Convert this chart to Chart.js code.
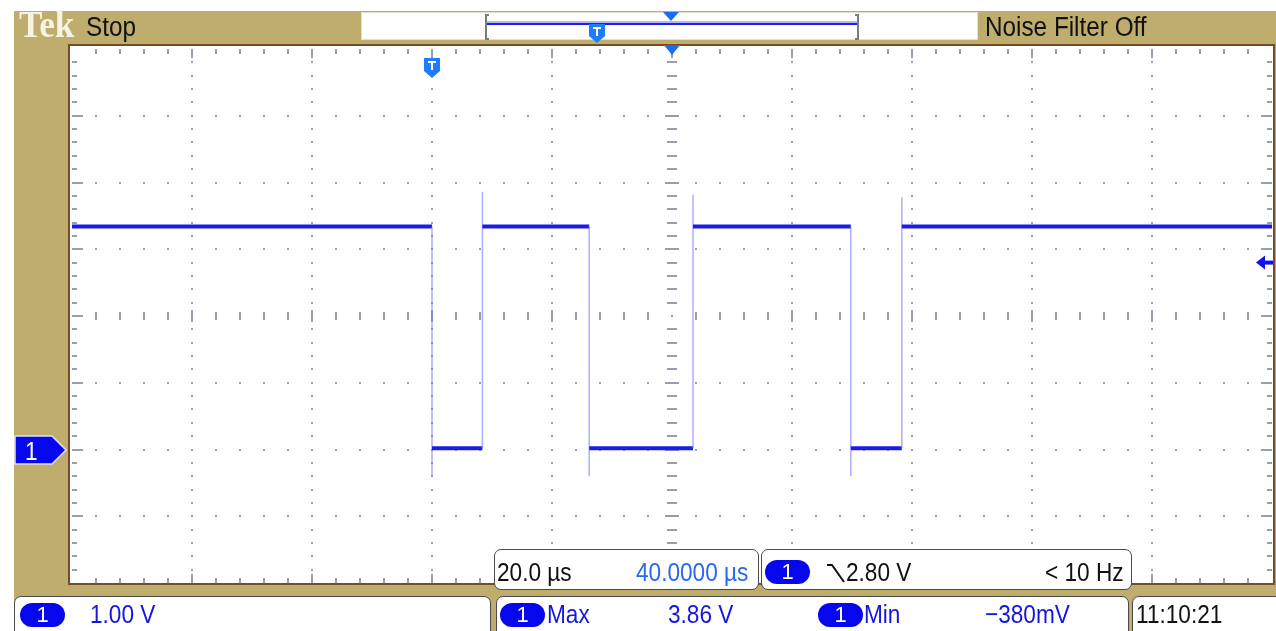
<!DOCTYPE html>
<html>
<head>
<meta charset="utf-8">
<title>Tek scope capture</title>
<script src="https://cdn.jsdelivr.net/npm/chart.js@4.4.1/dist/chart.umd.min.js"></script>
<style>
  html, body { margin: 0; padding: 0; background: #fff; }
  #wrap { position: relative; width: 1276px; height: 631px; overflow: hidden; }
  #scope { position: absolute; left: 0; top: 0; }
  .lbl { position: absolute; font-family: 'Liberation Sans', Arial, sans-serif; font-size: 26px; line-height: 26px;
         white-space: nowrap; transform: scaleX(.87); transform-origin: 0 0; color: #111; }
  .big { font-size: 27px; line-height: 27px; transform: scaleX(.9); }
  .blue { color: #1515e0; }
  .lblue { color: #2a66f2; }
  .tek { position: absolute; left: 19px; top: 6px; font-family: 'Liberation Serif', serif; font-weight: bold;
         font-size: 37px; line-height: 37px; color: #f6f2e4; transform: scaleX(.95); transform-origin: 0 0; }
  .box { position: absolute; background: #fff; border: 1.5px solid #4a4a4a; border-radius: 7px; box-sizing: border-box; }
  .pill { position: absolute; width: 45px; height: 24px; background: #0707ee; border-radius: 12px; color: #fff;
          font-family: 'Liberation Sans', sans-serif; font-size: 22px; line-height: 24px; text-align: center; }
</style>
</head>
<body>
<div id="wrap">
  <canvas id="scope" width="1276" height="631"></canvas>

  <span class="tek">Tek</span>
  <span class="lbl big" style="left:86px;top:14px">Stop</span>
  <span class="lbl big" style="left:985px;top:14px">Noise Filter Off</span>

  <div class="box" style="left:494px;top:549px;width:265px;height:41px"></div>
  <div class="box" style="left:761px;top:549px;width:371px;height:41px"></div>
  <span class="lbl" style="left:497px;top:559px">20.0 µs</span>
  <span class="lbl lblue" style="left:636px;top:559px">40.0000 µs</span>
  <span class="pill" style="left:765px;top:560px">1</span>
  <svg style="position:absolute;left:826px;top:562px" width="20" height="22">
    <polyline points="1,3 6,3 18,20" fill="none" stroke="#111" stroke-width="2"/>
  </svg>
  <span class="lbl" style="left:846px;top:559px">2.80 V</span>
  <span class="lbl" style="left:1045px;top:559px">&lt; 10 Hz</span>

  <div class="box" style="left:14px;top:596px;width:477px;height:50px"></div>
  <div class="box" style="left:496px;top:596px;width:633px;height:50px"></div>
  <div class="box" style="left:1132px;top:596px;width:150px;height:50px"></div>
  <span class="pill" style="left:20px;top:603px">1</span>
  <span class="lbl blue" style="left:90px;top:601px">1.00 V</span>
  <span class="pill" style="left:500px;top:603px">1</span>
  <span class="lbl blue" style="left:547px;top:601px">Max</span>
  <span class="lbl blue" style="left:668px;top:601px">3.86 V</span>
  <span class="pill" style="left:818px;top:603px">1</span>
  <span class="lbl blue" style="left:864px;top:601px">Min</span>
  <span class="lbl blue" style="left:985px;top:601px">&minus;380mV</span>
  <span class="lbl" style="left:1136px;top:601px">11:10:21</span>

  <span id="gndLabel" class="lbl" style="left:25px;top:436px;color:#fff">1</span>
</div>

<script>
'use strict';

// channel 1 trace, time relative to trigger (µs) and volts
const timeUs = [-60, 0, 0, 0, 8.4, 8.4, 8.4, 26.2, 26.2, 26.2, 43.5, 43.5, 43.5, 69.8, 69.8, 69.8, 78.3, 78.3, 78.3, 140];
const volts = [3.34, 3.34, -0.40, 0.02, 0.02, 3.86, 3.34, 3.34, -0.40, 0.02, 0.02, 3.82, 3.34, 3.34, -0.40, 0.02, 0.02, 3.78, 3.34, 3.34];

const timeRange = [-60, 140];
const voltRange = [-2, 6];
const timeDiv = 20;
const voltDiv = 1;
const triggerTime = 0;
const centerTime = 40;
const triggerLevel = 2.80;

const TAN = '#bead6d';
const levelColor = '#1c1ce8';
const edgeColor = 'rgba(120,120,255,0.6)';

function dot(ctx, x, y) {
  ctx.fillRect(Math.round(x) - 1, Math.round(y) - 1, 2, 2);
}
function hTick(ctx, x0, x1, y) {
  ctx.fillRect(x0, Math.round(y) - 1, x1 - x0, 2);
}
function vTick(ctx, x, y0, y1) {
  ctx.fillRect(Math.round(x) - 1, y0, 2, y1 - y0);
}

const graticule = {
  id: 'graticule',
  beforeDraw(chart) {
    const {ctx, chartArea: a, width, height} = chart;
    ctx.save();
    ctx.fillStyle = '#fff';
    ctx.fillRect(0, 0, width, height);
    ctx.fillStyle = TAN;
    ctx.fillRect(14, 11, width - 14, height - 11);
    ctx.fillStyle = '#fff';
    ctx.fillRect(a.left - 3, a.top - 4, a.right - a.left + 5, a.bottom - a.top + 5);
    ctx.strokeStyle = '#7a4a24';
    ctx.lineWidth = 2;
    ctx.strokeRect(a.left - 3, a.top - 4, a.right - a.left + 5, a.bottom - a.top + 5);

    // record view bar
    ctx.fillStyle = '#fff';
    ctx.fillRect(361, 12, 617, 28);
    ctx.strokeStyle = '#e4e0cc';
    ctx.lineWidth = 1;
    ctx.strokeRect(361.5, 12.5, 616, 27);
    ctx.strokeStyle = '#6f8080';
    ctx.lineWidth = 2;
    ctx.beginPath();
    ctx.moveTo(489, 15); ctx.lineTo(486, 15); ctx.lineTo(486, 39); ctx.lineTo(489, 39);
    ctx.moveTo(855, 15); ctx.lineTo(858, 15); ctx.lineTo(858, 39); ctx.lineTo(855, 39);
    ctx.stroke();
    ctx.fillStyle = 'rgba(110,110,255,0.5)';
    ctx.fillRect(487, 21, 370, 2);
    ctx.fillStyle = '#1c1cf0';
    ctx.fillRect(487, 23, 370, 2);
    ctx.fillStyle = '#1e7cff';
    ctx.beginPath();
    ctx.moveTo(589, 24); ctx.lineTo(605, 24); ctx.lineTo(605, 36); ctx.lineTo(597, 43); ctx.lineTo(589, 36);
    ctx.closePath();
    ctx.fill();
    ctx.fillStyle = '#fff';
    ctx.fillRect(593, 27, 8, 2);
    ctx.fillRect(596, 27, 2, 9);
    ctx.fillStyle = '#1a6df2';
    ctx.beginPath();
    ctx.moveTo(663, 12); ctx.lineTo(679, 12); ctx.lineTo(671, 21);
    ctx.closePath();
    ctx.fill();
    ctx.restore();
  },
  beforeDatasetsDraw(chart) {
    const {ctx, chartArea: a} = chart;
    const xs = chart.scales.x;
    const ys = chart.scales.y;
    const nx = (timeRange[1] - timeRange[0]) / timeDiv * 5;
    const ny = (voltRange[1] - voltRange[0]) / voltDiv * 5;
    const majorX = [];
    const majorY = [];
    for (let i = 1; i < nx / 5; i++) majorX.push(xs.getPixelForValue(timeRange[0] + i * timeDiv));
    for (let j = 1; j < ny / 5; j++) majorY.push(ys.getPixelForValue(voltRange[0] + j * voltDiv));
    const cx = (nx / 5) / 2 - 1;
    const cy = (ny / 5) / 2 - 1;

    ctx.save();
    ctx.fillStyle = '#9c9cab';
    for (let j = 1; j < ny; j++) {
      const y = ys.getPixelForValue(voltRange[0] + j * voltDiv / 5);
      const big = j % 5 === 0;
      hTick(ctx, a.left, a.left + (big ? 11 : 5), y);
      hTick(ctx, a.right - (big ? 11 : 5), a.right, y);
      majorX.forEach((x, k) => {
        if (k === cx) {
          if (j === ny / 2) dot(ctx, x, y);
          else hTick(ctx, x - (big ? 7 : 5), x + (big ? 7 : 5), y);
        } else {
          dot(ctx, x, y);
        }
      });
    }
    for (let i = 1; i < nx; i++) {
      const x = xs.getPixelForValue(timeRange[0] + i * timeDiv / 5);
      const big = i % 5 === 0;
      vTick(ctx, x, a.top, a.top + (big ? 9 : 5));
      vTick(ctx, x, a.bottom - (big ? 9 : 5), a.bottom);
      majorY.forEach((y, k) => {
        if (k === cy) {
          if (i !== nx / 2) vTick(ctx, x, Math.round(y - (big ? 6 : 4)), Math.round(y + (big ? 6 : 4)));
        } else if (!big) {
          dot(ctx, x, y);
        }
      });
    }
    ctx.restore();
  },
  afterDatasetsDraw(chart) {
    const {ctx, chartArea: a} = chart;
    const xs = chart.scales.x;
    const ys = chart.scales.y;
    ctx.save();

    // trigger position
    const tx = Math.round(xs.getPixelForValue(triggerTime));
    const ty = a.top + 9;
    ctx.fillStyle = '#1e7cff';
    ctx.beginPath();
    ctx.moveTo(tx - 8, ty); ctx.lineTo(tx + 8, ty); ctx.lineTo(tx + 8, ty + 13);
    ctx.lineTo(tx, ty + 20); ctx.lineTo(tx - 8, ty + 13);
    ctx.closePath();
    ctx.fill();
    ctx.fillStyle = '#fff';
    ctx.fillRect(tx - 4, ty + 3, 8, 2);
    ctx.fillRect(tx - 1, ty + 3, 2, 9);

    // expansion point
    const ex = Math.round(xs.getPixelForValue(centerTime));
    ctx.fillStyle = '#1a6df2';
    ctx.beginPath();
    ctx.moveTo(ex - 8, a.top - 4); ctx.lineTo(ex + 8, a.top - 4); ctx.lineTo(ex, a.top + 6);
    ctx.closePath();
    ctx.fill();

    // trigger level
    const ly = ys.getPixelForValue(triggerLevel);
    ctx.fillStyle = '#1010f0';
    ctx.beginPath();
    ctx.moveTo(a.right - 16, ly); ctx.lineTo(a.right - 7, ly - 7); ctx.lineTo(a.right - 7, ly + 7);
    ctx.closePath();
    ctx.fill();
    ctx.fillRect(a.right - 8, ly - 2, 9, 4);

    // channel 1 ground reference
    const gy = Math.round(ys.getPixelForValue(0));
    ctx.fillStyle = '#0707ee';
    ctx.strokeStyle = '#dfe0ff';
    ctx.lineWidth = 1.5;
    ctx.beginPath();
    ctx.moveTo(15, gy - 14); ctx.lineTo(52, gy - 14); ctx.lineTo(66, gy);
    ctx.lineTo(52, gy + 14); ctx.lineTo(15, gy + 14);
    ctx.closePath();
    ctx.fill();
    ctx.stroke();
    ctx.restore();
  }
};

function isEdge(c) {
  return c.p0.parsed.x === c.p1.parsed.x;
}

const points = timeUs.map((t, i) => ({x: t, y: volts[i]}));

const chart = new Chart(document.getElementById('scope').getContext('2d'), {
  type: 'line',
  data: {
    datasets: [{
      label: 'CH1',
      data: points,
      borderColor: levelColor,
      borderWidth: 4,
      pointRadius: 0,
      tension: 0,
      segment: {
        borderColor: c => isEdge(c) ? edgeColor : levelColor,
        borderWidth: c => isEdge(c) ? 1.5 : 4
      }
    }]
  },
  options: {
    responsive: false,
    animation: false,
    layout: {padding: {left: 72, top: 49, right: 4, bottom: 48}},
    scales: {
      x: {type: 'linear', min: timeRange[0], max: timeRange[1], display: false},
      y: {type: 'linear', min: voltRange[0], max: voltRange[1], display: false}
    },
    plugins: {legend: {display: false}, tooltip: {enabled: false}}
  },
  plugins: [graticule]
});

const gnd = document.getElementById('gndLabel');
gnd.style.top = (chart.scales.y.getPixelForValue(0) - 12) + 'px';
</script>
</body>
</html>
